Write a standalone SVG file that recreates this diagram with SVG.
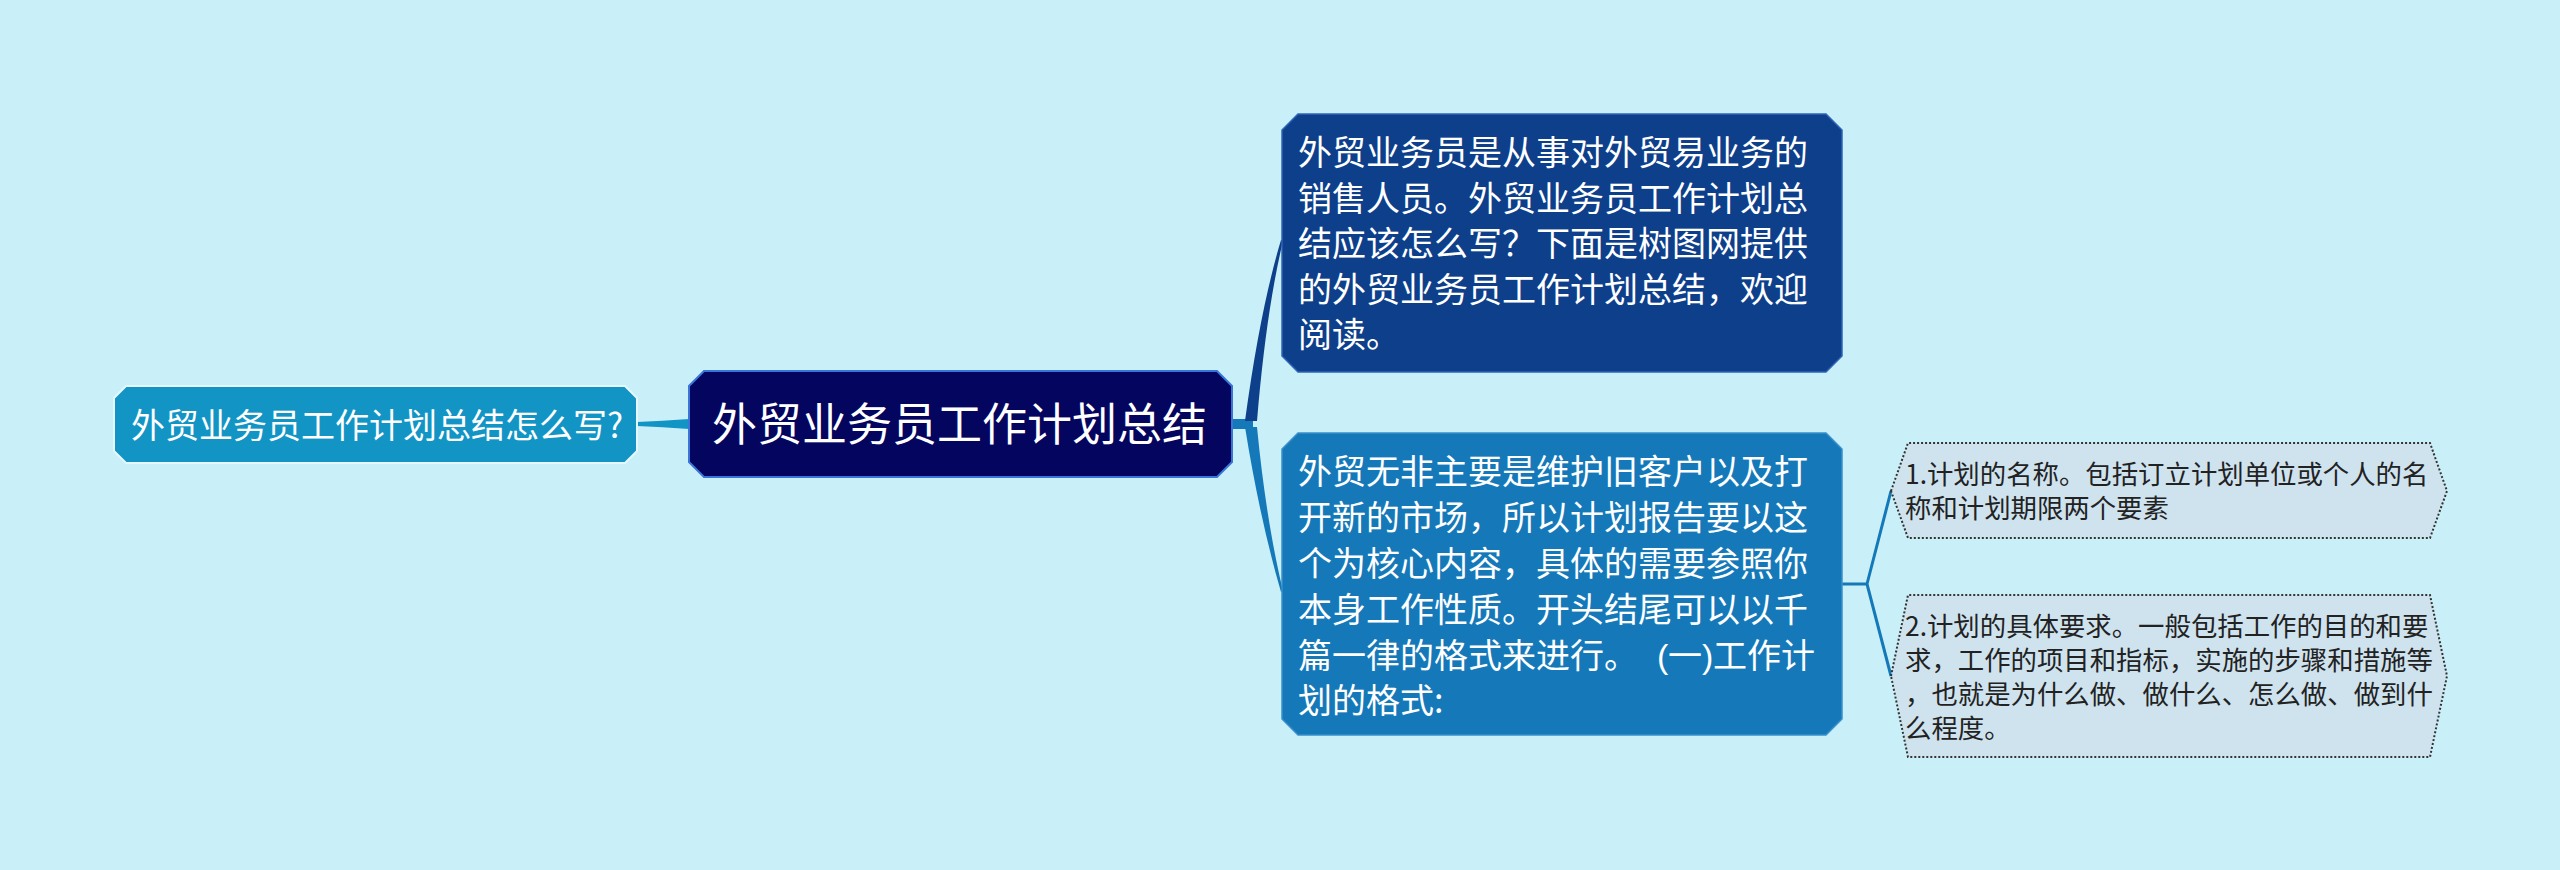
<svg xmlns="http://www.w3.org/2000/svg" width="2560" height="870" viewBox="0 0 2560 870">
<style>
text{font-family:"Noto Sans CJK SC","Noto Sans",sans-serif;}
.t34{font-size:34px;fill:#ffffff;}
.t45{font-size:45px;fill:#ffffff;}
.t26{font-size:26.4px;fill:#222222;}
.lat{font-family:"Liberation Sans",sans-serif;}
.leaf{fill:#cfe3ef;stroke:#333333;stroke-width:2;stroke-dasharray:2 2;}
</style>
<rect width="2560" height="870" fill="#c9f0f8"/>
<g id="connectors">
<path d="M689,419 Q662,421 637,422 L637,426 Q662,427 689,429 Z" fill="#1295c5"/>
<rect x="1231" y="419" width="22" height="10" fill="#1579b9"/>
<path d="M1245,421 Q1260,310 1281,240 L1283,241 Q1266,312 1257,421 Z" fill="#0e3f8b"/>
<path d="M1245,427 Q1260,520 1281,592 L1283,591 Q1266,520 1257,427 Z" fill="#1579b9"/>
<path d="M1842,584 L1867,584 M1867,584 L1891,491 M1867,584 L1891,676" fill="none" stroke="#1579b9" stroke-width="3" stroke-linejoin="round"/>
</g>
<g id="node-left">
<polygon points="126,386 625,386 637,398 637,451 625,463 126,463 114,451 114,398" fill="#1295c5" stroke="#e6f7fb" stroke-width="2"/>
<text class="t34" x="131" y="438">外贸业务员工作计划总结怎么写?</text>
</g>
<g id="node-center">
<polygon points="704,371 1217,371 1232,386 1232,462 1217,477 704,477 689,462 689,386" fill="#04055e" stroke="#3a74d8" stroke-width="2"/>
<text class="t45" x="712" y="441">外贸业务员工作计划总结</text>
</g>
<g id="node-top">
<polygon points="1298,114 1826,114 1842,130 1842,356 1826,372 1298,372 1282,356 1282,130" fill="#0e3f8b" stroke="#2f63b5" stroke-width="1.5"/>
<text class="t34" x="1298" y="165">外贸业务员是从事对外贸易业务的</text>
<text class="t34" x="1298" y="210.5">销售人员。外贸业务员工作计划总</text>
<text class="t34" x="1298" y="256">结应该怎么写？下面是树图网提供</text>
<text class="t34" x="1298" y="301.5">的外贸业务员工作计划总结，欢迎</text>
<text class="t34" x="1298" y="347">阅读。</text>
</g>
<g id="node-bottom">
<polygon points="1298,433 1826,433 1842,449 1842,719 1826,735 1298,735 1282,719 1282,449" fill="#1579b9" stroke="#3a8fcc" stroke-width="1.5"/>
<text class="t34" x="1298" y="484">外贸无非主要是维护旧客户以及打</text>
<text class="t34" x="1298" y="530">开新的市场，所以计划报告要以这</text>
<text class="t34" x="1298" y="576">个为核心内容，具体的需要参照你</text>
<text class="t34" x="1298" y="622">本身工作性质。开头结尾可以以千</text>
<text class="t34" x="1298" y="667.5">篇一律的格式来进行。 <tspan class="lat" x="1657">(</tspan><tspan x="1668">一</tspan><tspan class="lat" x="1702">)</tspan><tspan x="1713">工作计</tspan></text>
<text class="t34" x="1298" y="713">划的格式:</text>
</g>
<g id="leaf-1">
<polygon class="leaf" points="1891,491 1908,443 2430,443 2447,491 2430,538 1908,538"/>
<text class="t26" x="1905" y="484">1.计划的名称。包括订立计划单位或个人的名</text>
<text class="t26" x="1905" y="517.5">称和计划期限两个要素</text>
</g>
<g id="leaf-2">
<polygon class="leaf" points="1891,676 1908,595 2430,595 2447,676 2430,757 1908,757"/>
<text class="t26" x="1905" y="636">2.计划的具体要求。一般包括工作的目的和要</text>
<text class="t26" x="1905" y="670">求，工作的项目和指标，实施的步骤和措施等</text>
<text class="t26" x="1905" y="704">，也就是为什么做、做什么、怎么做、做到什</text>
<text class="t26" x="1905" y="738">么程度。</text>
</g>
</svg>
